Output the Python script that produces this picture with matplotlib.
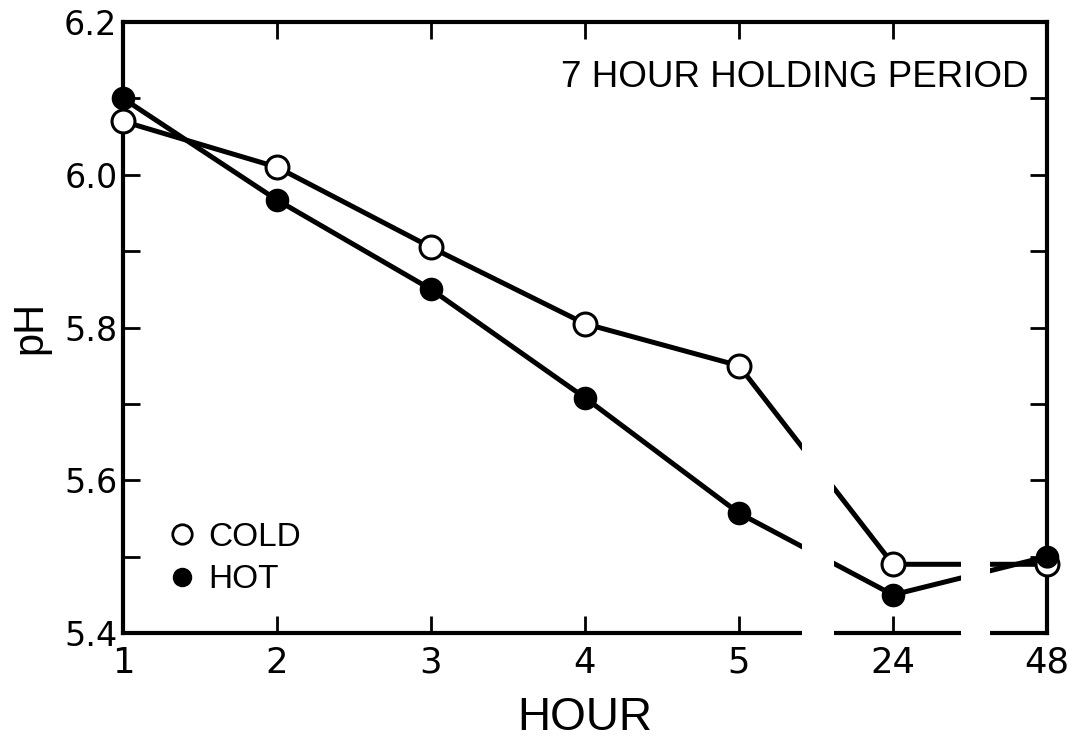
import matplotlib
matplotlib.use("Agg")
import matplotlib.pyplot as plt
from matplotlib.lines import Line2D
from matplotlib.ticker import MultipleLocator, FormatStrFormatter

plt.rcParams['font.family'] = ['DejaVu Sans']

# hours are placed at equal steps on the axis (axis is broken after 5 and 24)
hours = ['1', '2', '3', '4', '5', '24', '48']
cold_ph = [6.07, 6.01, 5.905, 5.805, 5.75, 5.49, 5.49]
hot_ph = [6.10, 5.967, 5.85, 5.708, 5.557, 5.45, 5.50]
breaks = [(4.41, 4.62), (5.44, 5.63)]

pos = list(range(len(hours)))

fig = plt.figure(figsize=(10.79, 7.39), dpi=100)
ax = fig.add_axes([0.114, 0.1434, 0.8563, 0.8268])

lw = 3.6
ax.plot(pos, hot_ph, color='black', lw=lw, marker='o', ms=15,
        mfc='black', mec='black', mew=2, clip_on=False, zorder=3)
ax.plot(pos, cold_ph, color='black', lw=lw, marker='o', ms=16.5,
        mfc='white', mec='black', mew=2.2, clip_on=False, zorder=4)
# hot marker at 48 h sits on top of the cold one
ax.plot(pos[-1], hot_ph[-1], marker='o', ms=15, mfc='black', mec='black',
        clip_on=False, zorder=5)

# breaks in the lines and bottom axis
for a, b in breaks:
    ax.axvspan(a, b, ymin=-0.03, ymax=0.6, color='white', zorder=6,
               clip_on=False, lw=0)

ax.set_xlim(0, 6)
ax.set_ylim(5.4, 6.2)
ax.set_xticks(pos)
ax.set_xticklabels(hours)
ax.yaxis.set_major_locator(MultipleLocator(0.2))
ax.yaxis.set_minor_locator(MultipleLocator(0.1))
ax.yaxis.set_major_formatter(FormatStrFormatter('%.1f'))

for s in ax.spines.values():
    s.set_linewidth(3)
ax.tick_params(which='both', direction='in', top=True, right=True,
               length=12, width=2)
ax.tick_params(axis='x', labelsize=25.5, pad=9)
ax.tick_params(axis='y', labelsize=24, pad=4)

ax.set_xlabel('HOUR', fontsize=33, labelpad=12, family='Liberation Sans')
ax.set_ylabel('pH', fontsize=30, labelpad=10, family='Liberation Sans')

ax.text(0.98, 0.91, '7 HOUR HOLDING PERIOD', transform=ax.transAxes,
        ha='right', va='center', fontsize=26.5, family='Liberation Sans')

handles = [
    Line2D([], [], ls='none', marker='o', ms=14, mfc='white', mec='black', mew=2),
    Line2D([], [], ls='none', marker='o', ms=13, mfc='black', mec='black'),
]
leg = ax.legend(handles, ['COLD', 'HOT'], loc='lower left',
                bbox_to_anchor=(0.035, 0.04), frameon=False,
                prop={'family': 'Liberation Sans', 'size': 24},
                handlelength=0.8, handletextpad=0.4, labelspacing=0.35,
                borderaxespad=0)

fig.savefig('out.png', dpi=100)
